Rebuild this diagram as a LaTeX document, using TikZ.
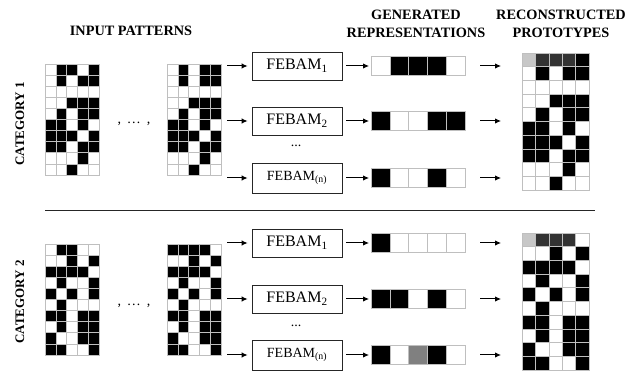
\documentclass[tikz,border=0pt]{standalone}
\usepackage{fontspec}
\setmainfont{Liberation Serif}
\usetikzlibrary{arrows.meta}
\definecolor{c0}{gray}{1}
\definecolor{c1}{gray}{0}
\definecolor{cL}{gray}{0.78}
\definecolor{cD}{gray}{0.2}
\definecolor{cG}{gray}{0.5}
\definecolor{gridline}{gray}{0.75}
% name, x, y, cell width, cell height, rows, total width, total height
\newcommand\drawgrid[8]{%
  \foreach \rw [count=\gi] in {#6} {
    \foreach \v [count=\gj] in \rw {
      \filldraw[fill=c\v, draw=gridline, line width=0.6pt]
        ({#2+(\gj-1)*#4},{#3+(\gi-1)*#5}) rectangle ++(#4,#5);
    }
  }
  \node[gridbox, minimum width=#7pt, minimum height=#8pt, anchor=north west] (#1) at (#2,#3) {};
}
\begin{document}
\begin{tikzpicture}[x=1pt,y=-1pt,
  gridbox/.style={inner sep=0pt, outer sep=0pt},
  febam/.style={draw=black!85, line width=0.8pt, fill=white, inner sep=0pt,
    minimum width=90pt, minimum height=28pt, font=\fontsize{16}{18}\selectfont},
  febamn/.style={febam, minimum height=30pt, font=\fontsize{14}{16}\selectfont},
  head/.style={font=\fontsize{14.3}{18}\selectfont\bfseries, align=center, inner sep=0pt},
  cat/.style={font=\fontsize{13}{15}\selectfont\bfseries, rotate=90, inner sep=0pt},
  txt/.style={font=\fontsize{14}{16}\selectfont, inner sep=0pt},
  arr/.style={-{Latex[length=6pt,width=5.5pt]}, line width=1pt},
]
\useasboundingbox (0,0) rectangle (627,371);

% headings
\node[head] (hin) at (131,31) {INPUT PATTERNS};
\node[head] (hgen) at (416,24) {GENERATED\\REPRESENTATIONS};
\node[head] (hrec) at (561,24) {RECONSTRUCTED\\PROTOTYPES};
\node[cat] (cat1) at (20,124) {CATEGORY 1};
\node[cat] (cat2) at (20,302) {CATEGORY 2};

% separator
\coordinate (sepL) at (45,210);
\coordinate (sepR) at (595,210);
\draw[line width=0.8pt, black!85] (sepL) -- (sepR);

% ---------- category 1 ----------
\drawgrid{g1a}{45}{64}{10.8}{11.1}{{0,1,1,0,1},{0,1,0,1,1},{0,0,0,0,0},{0,0,1,1,1},{0,1,0,1,1},{1,1,0,1,0},{1,1,1,0,1},{1,1,0,1,1},{0,0,0,1,0},{0,0,1,0,0}}{54}{111}
\drawgrid{g1b}{167}{64}{10.8}{11.1}{{0,1,0,1,1},{0,1,0,1,1},{0,0,0,0,0},{0,0,1,1,1},{0,1,0,1,1},{1,1,0,1,0},{1,1,1,0,1},{1,1,0,1,1},{0,0,0,1,0},{0,0,1,0,0}}{54}{111}
\node[txt] (dots1) at (134,124) {,\hspace{6pt}…\hspace{6pt},};
\node[febam] (f11) at (297,66) {FEBAM\textsubscript{1}};
\node[febam] (f12) at (297,121) {FEBAM\textsubscript{2}};
\node[febamn] (f13) at (297,178) {FEBAM\textsubscript{(n)}};
\node[txt] (v1) at (296,146) {...};
\drawgrid{r11}{371}{56.5}{18.8}{19}{{0,1,1,1,0}}{94}{19}
\drawgrid{r12}{371}{111.5}{18.8}{19}{{1,0,0,1,1}}{94}{19}
\drawgrid{r13}{371}{168.5}{18.8}{19}{{1,0,0,1,0}}{94}{19}
\drawgrid{p1}{522}{53}{13.4}{13.7}{{L,D,D,D,1},{0,1,0,1,1},{0,0,0,0,0},{0,0,1,1,1},{0,1,0,1,1},{1,1,0,1,0},{1,1,1,0,1},{1,1,0,1,1},{0,0,0,1,0},{0,0,1,0,0}}{67}{137}

\foreach \k/\yy in {1/66,2/121,3/178} {
  \coordinate (s1\k) at (227,\yy);
  \coordinate (a1\k) at (480,\yy);
  \coordinate (b1\k) at (501,\yy);
  \draw[arr, shorten >=4pt] (s1\k) -- (f1\k.west);
  \draw[arr, shorten <=4pt, shorten >=2pt] (f1\k.east) -- (r1\k.west);
  \draw[arr] (a1\k) -- (b1\k);
}

% ---------- category 2 ----------
\drawgrid{g2a}{45}{244}{10.8}{11.1}{{0,1,1,0,0},{0,0,1,0,1},{1,1,1,1,0},{0,1,0,0,1},{1,0,1,0,1},{0,1,0,0,0},{1,1,0,1,1},{0,1,0,1,1},{1,0,0,1,1},{1,1,0,0,1}}{54}{111}
\drawgrid{g2b}{167}{244}{10.8}{11.1}{{1,1,1,1,0},{0,0,1,0,1},{1,1,1,1,0},{0,1,0,0,1},{1,0,1,0,1},{0,1,0,0,0},{1,1,0,1,1},{0,1,0,1,1},{1,0,0,1,1},{1,1,0,0,1}}{54}{111}
\node[txt] (dots2) at (134,306) {,\hspace{6pt}…\hspace{6pt},};
\node[febam] (f21) at (297,243) {FEBAM\textsubscript{1}};
\node[febam] (f22) at (297,299) {FEBAM\textsubscript{2}};
\node[febamn] (f23) at (297,355) {FEBAM\textsubscript{(n)}};
\node[txt] (v2) at (296,326) {...};
\drawgrid{r21}{371}{233.5}{18.8}{19}{{1,0,0,0,0}}{94}{19}
\drawgrid{r22}{371}{289.5}{18.8}{19}{{1,1,0,1,0}}{94}{19}
\drawgrid{r23}{371}{345.5}{18.8}{19}{{1,0,G,1,0}}{94}{19}
\drawgrid{p2}{522}{233}{13.4}{13.7}{{L,D,D,D,0},{0,0,1,0,1},{1,1,1,1,0},{0,1,0,0,1},{1,0,1,0,1},{0,1,0,0,0},{1,1,0,1,1},{0,1,0,1,1},{1,0,0,1,1},{1,1,0,0,1}}{67}{137}

\foreach \k/\yy in {1/243,2/299,3/355} {
  \coordinate (s2\k) at (227,\yy);
  \coordinate (a2\k) at (480,\yy);
  \coordinate (b2\k) at (501,\yy);
  \draw[arr, shorten >=4pt] (s2\k) -- (f2\k.west);
  \draw[arr, shorten <=4pt, shorten >=2pt] (f2\k.east) -- (r2\k.west);
  \draw[arr] (a2\k) -- (b2\k);
}
\end{tikzpicture}
\end{document}
